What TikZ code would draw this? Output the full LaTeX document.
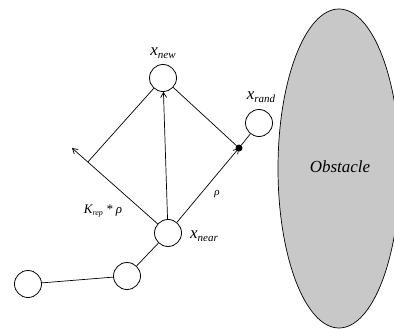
\documentclass[tikz,border=0pt]{standalone}
\usepackage{fontspec}
\setmainfont{Liberation Serif}
\usetikzlibrary{arrows.meta,calc}
\begin{document}
\begin{tikzpicture}[x=1pt,y=-1pt,
  vtx/.style={circle,draw,line width=0.8pt,minimum size=27pt,inner sep=0pt,fill=white},
  edge/.style={line width=0.7pt},
  arr/.style={edge,-{Straight Barb[length=5pt,width=6pt]}},
  lbl/.style={font=\itshape,inner sep=0pt}]
\useasboundingbox (0,0) rectangle (394,329);
% obstacle
\path[draw,line width=0.7pt,fill={rgb,255:red,200;green,200;blue,200}] (339,168.5) ellipse [x radius=61, y radius=159.5];
\node[lbl,font=\itshape\fontsize{17}{17}\selectfont] (obs) at (340,167) {Obstacle};
% vertices
\node[vtx] (xnew) at (163,78) {};
\node[vtx] (xrand) at (259,123) {};
\node[vtx] (xnear) at (168,233) {};
\node[vtx] (mid) at (127,276) {};
\node[vtx] (left) at (28,284) {};
\node[circle,fill=black,minimum size=7pt,inner sep=0pt] (dot) at (239,148) {};
\coordinate (rep) at (72,148);
\coordinate (P) at ($(xnear)!0.835!(rep)$);
% connectors
\draw[arr] (xnear) -- (xnew);
\draw[arr] (xnear) -- (dot.center);
\draw[edge] (dot) -- (xnew);
\draw[edge] (dot) -- (xrand);
\draw[arr] (xnear) -- (rep);
\draw[edge] (xnew) -- (P);
\draw[edge] (xnear) -- (mid);
\draw[edge] (mid) -- (left);
% labels
\node[lbl] (lnew) at (163,53) {\fontsize{17}{17}\selectfont x\raisebox{-3pt}{\fontsize{11}{11}\selectfont new}};
\node[lbl] (lrand) at (261,97) {\fontsize{17}{17}\selectfont x\raisebox{-3pt}{\fontsize{11}{11}\selectfont rand}};
\node[lbl] (lnear) at (204,236) {\fontsize{17}{17}\selectfont x\raisebox{-3pt}{\fontsize{11}{11}\selectfont near}};
\node[lbl] (lk) at (103,211) {\fontsize{13}{13}\selectfont K\raisebox{-2pt}{\fontsize{8}{8}\selectfont rep} * ρ};
\node[lbl] (lrho) at (217,194) {\fontsize{11}{11}\selectfont ρ};
\end{tikzpicture}
\end{document}
